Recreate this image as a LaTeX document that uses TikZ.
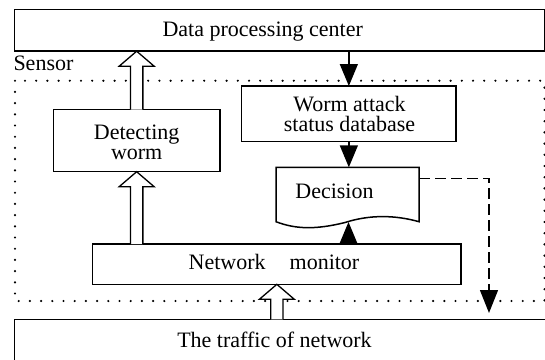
\documentclass[tikz,border=0pt]{standalone}
\usepackage{fontspec}
\setmainfont{Liberation Serif}
\usetikzlibrary{arrows.meta,calc}
\newcommand\hollowup[2]{\draw[hollow] let \p1=(#1), \p2=(#2) in
  (\x1-6.2pt,\y1) -- (\x1-6.2pt,\y2-15pt) -- (\x1-17.5pt,\y2-15pt) -- (\x1,\y2)
  -- (\x1+17.5pt,\y2-15pt) -- (\x1+6.2pt,\y2-15pt) -- (\x1+6.2pt,\y1);}
\begin{document}
\begin{tikzpicture}[x=1pt,y=-1pt,
  box/.style={draw, line width=1.5pt, inner sep=0pt, outer sep=0pt, fill=white},
  txt/.style={font=\fontsize{22}{20}\selectfont, inner sep=0pt, align=center},
  solidarrow/.style={line width=1.4pt, -{Triangle[length=22pt,width=18pt]}},
  hollow/.style={draw, line width=1.3pt, fill=white, line join=miter},
  dotrect/.style={line width=2.4pt, line cap=round, dash pattern=on 0pt off 11.2pt},
  dashline/.style={line width=1.3pt, dash pattern=on 11pt off 5pt, -{Triangle[length=23pt,width=18pt]}}]
\useasboundingbox (0,0) rectangle (545,359);
\clip (0,0) rectangle (545,359);
\draw[dotrect] (15,80.7) rectangle (544.5,301);
\node[box, minimum width=529.9pt, minimum height=41.5pt] (dpc) at (279.55,30.45) {};
\node[txt, anchor=base] (dpct) at (262.7,36.7) {Data processing center};
\node[txt, anchor=base west] (sensor) at (13.3,70) {Sensor};
\node[box, minimum width=166.7pt, minimum height=62.2pt] (dw) at (136.65,140.6) {};
\node[txt] (dwt) at (136.7,142.3) {Detecting\\worm};
\node[box, minimum width=214.3pt, minimum height=55.7pt] (worm) at (348.85,113.85) {};
\node[txt] (wormt) at (349.5,113.8) {Worm attack\\status database};
\node[inner sep=0pt, outer sep=0pt, minimum width=143pt, minimum height=54.4pt] (dec) at (347.5,194.5) {};
\draw[line width=1.5pt, line join=miter, fill=white] (dec.south west) -- (dec.north west)
  -- (dec.north east) -- (dec.south east) .. controls (395,215) and (370,214.5) .. (345,222.5)
  .. controls (315,230) and (295,229) .. cycle;
\node[txt, anchor=base] (dect) at (334.5,198.3) {Decision};
\node[box, minimum width=368.3pt, minimum height=40.3pt] (nm) at (276.85,264.15) {};
\node[txt, anchor=base] (nmt) at (274,269.3) {Network\hspace{24pt}monitor};
\node[box, anchor=north west, minimum width=560pt, minimum height=60pt] (traffic) at (14.7,319.3) {};
\node[txt, anchor=base] (traffict) at (274.5,347.3) {The traffic of network};
\hollowup{dw.north}{dw.north |- dpc.south}
\hollowup{dw.south |- nm.north}{dw.south}
\hollowup{nm.south |- traffic.north}{nm.south}
\draw[solidarrow] (worm.north |- dpc.south) -- (worm.north);
\draw[solidarrow] (worm.south) -- (worm.south |- dec.north);
\coordinate (decb) at (348.5,222);
\draw[solidarrow] (nm.north -| decb) -- (decb);
\coordinate (decr) at ($(dec.north east)+(0,11)$);
\coordinate (dashend) at (489,313);
\draw[dashline] (decr) -| (dashend);
\end{tikzpicture}
\end{document}
